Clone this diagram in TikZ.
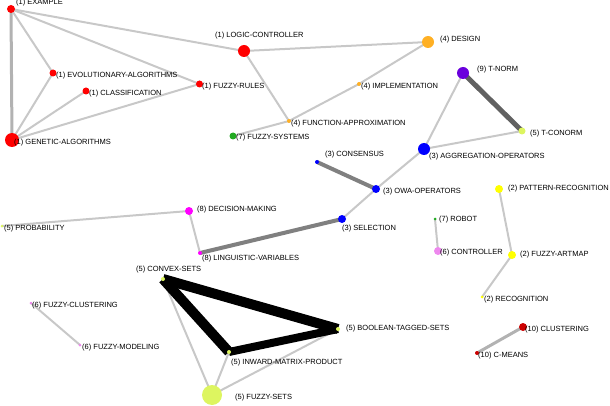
\documentclass[tikz,border=0pt]{standalone}
\usepackage{fontspec}
\setmainfont{Liberation Sans}
\usetikzlibrary{backgrounds}
\definecolor{cA}{HTML}{FF0000}
\definecolor{cB}{HTML}{FFFF00}
\definecolor{cC}{HTML}{0000FF}
\definecolor{cD}{HTML}{FFB024}
\definecolor{cE}{HTML}{DDF560}
\definecolor{cF}{HTML}{EE88EE}
\definecolor{cG}{HTML}{22AA22}
\definecolor{cH}{HTML}{FF00FF}
\definecolor{cI}{HTML}{6A00DD}
\definecolor{cJ}{HTML}{CC0000}
\definecolor{edgelight}{HTML}{C8C8C8}
\tikzset{
  vtx/.style={circle, inner sep=0pt, draw=none},
  lbl/.style={anchor=west, inner sep=0pt, font=\fontsize{7.5}{9}\selectfont},
  thinedge/.style={draw=edgelight, line width=2pt},
  midedge/.style={draw=black!30, line width=3pt},
  strongedge/.style={draw=black!50, line width=4pt},
  darkedge/.style={draw=black!62, line width=5pt},
  heavyedge/.style={draw=black, line width=10pt},
}
\begin{document}
\begin{tikzpicture}[x=1pt,y=-1pt]
\useasboundingbox (0,0) rectangle (610,406);
% vertices
\node[vtx, fill=cA, minimum size=8pt] (example) at (11,9) {};
\node[vtx, fill=cA, minimum size=7pt] (evol) at (53,73) {};
\node[vtx, fill=cA, minimum size=7pt] (classif) at (86,91) {};
\node[vtx, fill=cA, minimum size=14pt] (genetic) at (12,140) {};
\node[vtx, fill=cA, minimum size=7pt] (frules) at (199.5,84) {};
\node[vtx, fill=cA, minimum size=12pt] (logic) at (244,51) {};
\node[vtx, fill=cD, minimum size=12pt] (design) at (428,42) {};
\node[vtx, fill=cD, minimum size=4pt] (impl) at (359,84) {};
\node[vtx, fill=cD, minimum size=4pt] (funcapp) at (289,121) {};
\node[vtx, fill=cG, minimum size=7pt] (fsys) at (233,136) {};
\node[vtx, fill=cI, minimum size=12pt] (tnorm) at (463,73) {};
\node[vtx, fill=cE, minimum size=7pt] (tconorm) at (522,131) {};
\node[vtx, fill=cC, minimum size=12pt] (aggr) at (424,149) {};
\node[vtx, fill=cC, minimum size=4pt] (consensus) at (317,162) {};
\node[vtx, fill=cC, minimum size=8pt] (owa) at (376,189) {};
\node[vtx, fill=cC, minimum size=8pt] (selection) at (342,219) {};
\node[vtx, fill=cG, minimum size=3pt] (robot) at (435,219) {};
\node[vtx, fill=cF, minimum size=8pt] (controller) at (438,251) {};
\node[vtx, fill=cB, minimum size=8pt] (pattern) at (499,189) {};
\node[vtx, fill=cB, minimum size=8pt] (artmap) at (512,255) {};
\node[vtx, fill=cB, minimum size=3pt] (recog) at (482,297) {};
\node[vtx, fill=cJ, minimum size=8pt] (clustering) at (523,327) {};
\node[vtx, fill=cJ, minimum size=4pt] (cmeans) at (477,353) {};
\node[vtx, fill=cH, minimum size=8pt] (decision) at (189,211) {};
\node[vtx, fill=cE, minimum size=3pt] (prob) at (2,226) {};
\node[vtx, fill=cH, minimum size=4pt] (ling) at (200,253) {};
\node[vtx, fill=cE, minimum size=4pt] (convex) at (163,279) {};
\node[vtx, fill=cF, minimum size=3pt] (fclust) at (31,303) {};
\node[vtx, fill=cF, minimum size=3pt] (fmodel) at (80,345) {};
\node[vtx, fill=cE, minimum size=4pt] (boolean) at (338,329) {};
\node[vtx, fill=cE, minimum size=4pt] (inward) at (229,352) {};
\node[vtx, fill=cE, minimum size=20pt] (fsets) at (212,395) {};
% labels
\node[lbl] (example-l) at (16,3) {(1) EXAMPLE};
\node[lbl] (evol-l) at (56,76) {(1) EVOLUTIONARY-ALGORITHMS};
\node[lbl] (classif-l) at (89,94) {(1) CLASSIFICATION};
\node[lbl] (genetic-l) at (14,143) {(1) GENETIC-ALGORITHMS};
\node[lbl] (frules-l) at (202,87) {(1) FUZZY-RULES};
\node[lbl] (logic-l) at (215,36) {(1) LOGIC-CONTROLLER};
\node[lbl] (design-l) at (440,40) {(4) DESIGN};
\node[lbl] (impl-l) at (361,87) {(4) IMPLEMENTATION};
\node[lbl] (funcapp-l) at (291,124) {(4) FUNCTION-APPROXIMATION};
\node[lbl] (fsys-l) at (236,138) {(7) FUZZY-SYSTEMS};
\node[lbl] (tnorm-l) at (477,70) {(9) T-NORM};
\node[lbl] (tconorm-l) at (530,134) {(5) T-CONORM};
\node[lbl] (aggr-l) at (429,157) {(3) AGGREGATION-OPERATORS};
\node[lbl] (consensus-l) at (325,155) {(3) CONSENSUS};
\node[lbl] (owa-l) at (383,192) {(3) OWA-OPERATORS};
\node[lbl] (selection-l) at (342,229) {(3) SELECTION};
\node[lbl] (robot-l) at (439,220) {(7) ROBOT};
\node[lbl] (controller-l) at (440,253) {(6) CONTROLLER};
\node[lbl] (pattern-l) at (508,189) {(2) PATTERN-RECOGNITION};
\node[lbl] (artmap-l) at (520,255) {(2) FUZZY-ARTMAP};
\node[lbl] (recog-l) at (484,300) {(2) RECOGNITION};
\node[lbl] (clustering-l) at (525,330) {(10) CLUSTERING};
\node[lbl] (cmeans-l) at (478,356) {(10) C-MEANS};
\node[lbl] (decision-l) at (197,210) {(8) DECISION-MAKING};
\node[lbl] (prob-l) at (4,229) {(5) PROBABILITY};
\node[lbl] (ling-l) at (202,259) {(8) LINGUISTIC-VARIABLES};
\node[lbl] (convex-l) at (136,270) {(5) CONVEX-SETS};
\node[lbl] (fclust-l) at (32,306) {(6) FUZZY-CLUSTERING};
\node[lbl] (fmodel-l) at (82,348) {(6) FUZZY-MODELING};
\node[lbl] (boolean-l) at (346,329) {(5) BOOLEAN-TAGGED-SETS};
\node[lbl] (inward-l) at (231,363) {(5) INWARD-MATRIX-PRODUCT};
\node[lbl] (fsets-l) at (235,398) {(5) FUZZY-SETS};
% edges (behind vertices)
\begin{scope}[on background layer]
\draw[midedge] (example.center) -- (genetic.center);
\draw[thinedge] (example.center) -- (evol.center);
\draw[thinedge] (example.center) -- (frules.center);
\draw[thinedge] (example.center) -- (logic.center);
\draw[thinedge] (genetic.center) -- (evol.center);
\draw[thinedge] (genetic.center) -- (classif.center);
\draw[thinedge] (genetic.center) -- (frules.center);
\draw[thinedge] (logic.center) -- (design.center);
\draw[thinedge] (logic.center) -- (funcapp.center);
\draw[thinedge] (design.center) -- (impl.center);
\draw[thinedge] (impl.center) -- (funcapp.center);
\draw[thinedge] (funcapp.center) -- (fsys.center);
\draw[darkedge] (tnorm.center) -- (tconorm.center);
\draw[thinedge] (tnorm.center) -- (aggr.center);
\draw[thinedge] (aggr.center) -- (tconorm.center);
\draw[thinedge] (aggr.center) -- (owa.center);
\draw[strongedge] (consensus.center) -- (owa.center);
\draw[thinedge] (owa.center) -- (selection.center);
\draw[strongedge] (selection.center) -- (ling.center);
\draw[thinedge] (ling.center) -- (decision.center);
\draw[thinedge] (decision.center) -- (prob.center);
\draw[thinedge] (robot.center) -- (controller.center);
\draw[thinedge] (pattern.center) -- (artmap.center);
\draw[thinedge] (artmap.center) -- (recog.center);
\draw[midedge] (clustering.center) -- (cmeans.center);
\draw[thinedge] (fclust.center) -- (fmodel.center);
\draw[thinedge] (fsets.center) -- (convex.center);
\draw[thinedge] (fsets.center) -- (inward.center);
\draw[thinedge] (fsets.center) -- (boolean.center);
\draw[heavyedge] (convex.center) -- (boolean.center);
\draw[heavyedge] (convex.center) -- (inward.center);
\draw[heavyedge, line width=8pt] (inward.center) -- (boolean.center);
\end{scope}
\end{tikzpicture}
\end{document}
